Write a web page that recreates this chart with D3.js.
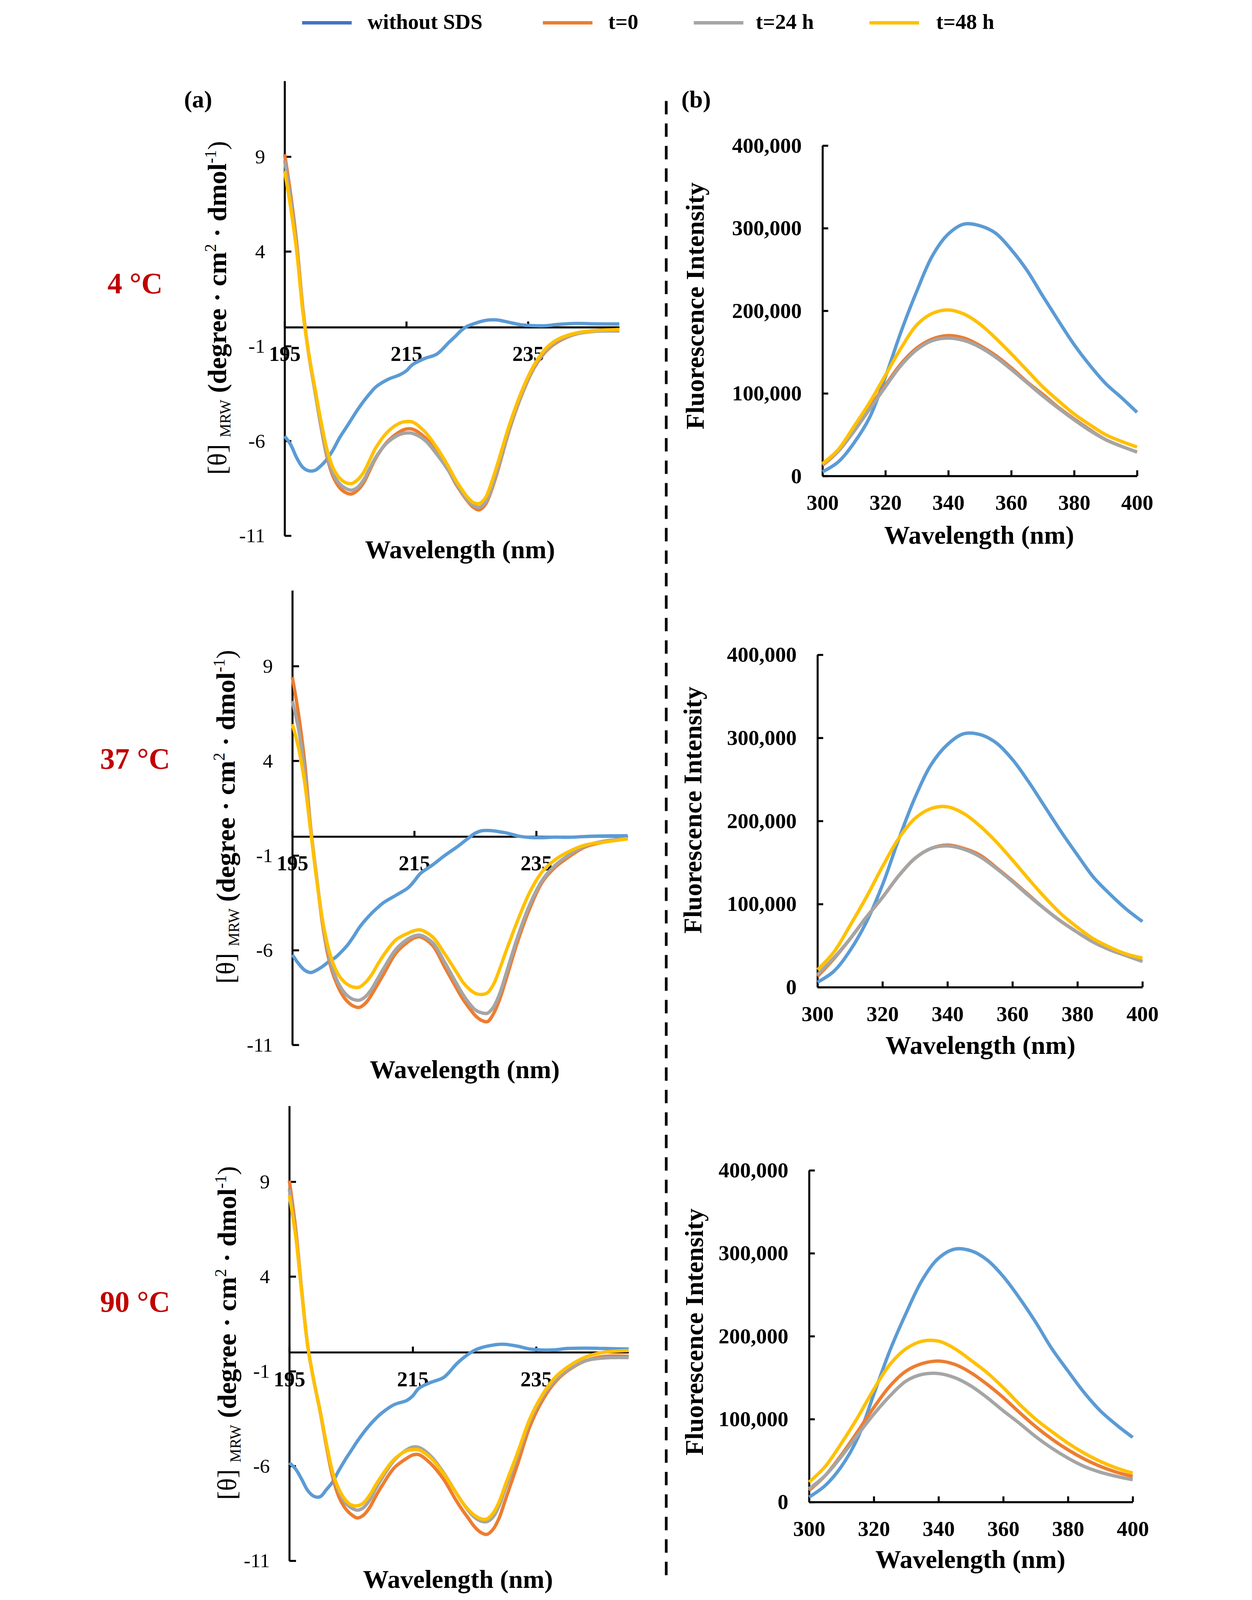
<!DOCTYPE html>
<html>
    <head>
        <meta charset="UTF-8"/>
        <style>
            html, body { margin: 0; padding: 0; background: #fff; overflow: hidden; }
            svg { display: block; width: 100vw; height: 100vh; }
        </style>
    </head>
    <body>
        <script src="https://d3js.org/d3.v7.min.js" type="text/javascript"></script>
        <script>
            // series names and colours (Excel default palette)
            let seriesNames = ["without SDS", "t=0", "t=24 h", "t=48 h"];
            let lineColors = ["#5B9BD5", "#ED7D31", "#A5A5A5", "#FFC000"];
            let legendColors = ["#4472C4", "#ED7D31", "#A5A5A5", "#FFC000"];
            let tempLabels = ["4 °C", "37 °C", "90 °C"];

            // CD spectra, wavelength (nm) / mean residue ellipticity
            let cdWavelengths = [195,196,197,198,199,200,201,202,203,204,205,206,207,208,209,210,212,214,215,216,218,220,222,223,224,225,226,227,228,229,230,232,234,236,238,240,243,246,250];
            let cdYTicks = [9, 4, -1, -6, -11];
            let cdXTicks = [195, 215, 235];

            let cd4_withoutSDS = [-5.75,-6.2,-6.9,-7.4,-7.58,-7.55,-7.3,-6.95,-6.45,-5.85,-5.35,-4.85,-4.35,-3.9,-3.5,-3.15,-2.75,-2.5,-2.3,-1.98,-1.65,-1.42,-0.8,-0.5,-0.18,0.05,0.17,0.28,0.36,0.39,0.38,0.25,0.12,0.08,0.08,0.15,0.2,0.18,0.17];
            let cd4_t0 = [9.13,7.0,4.4,1.0,-1.5,-3.4,-5.3,-6.9,-7.9,-8.45,-8.72,-8.8,-8.6,-8.2,-7.55,-6.9,-6.0,-5.5,-5.37,-5.38,-5.8,-6.6,-7.6,-8.2,-8.7,-9.15,-9.5,-9.64,-9.35,-8.6,-7.6,-5.36,-3.55,-2.15,-1.25,-0.75,-0.35,-0.2,-0.17];
            let cd4_t24 = [8.8,6.7,4.2,0.9,-1.5,-3.4,-5.25,-6.8,-7.75,-8.25,-8.5,-8.6,-8.45,-8.05,-7.45,-6.85,-6.05,-5.65,-5.58,-5.6,-5.95,-6.7,-7.6,-8.15,-8.65,-9.1,-9.4,-9.5,-9.25,-8.5,-7.5,-5.3,-3.5,-2.1,-1.2,-0.7,-0.35,-0.22,-0.2];
            let cd4_t48 = [8.25,6.3,3.95,0.8,-1.45,-3.25,-5.0,-6.5,-7.45,-7.95,-8.2,-8.25,-8.05,-7.65,-7.0,-6.35,-5.5,-5.05,-4.98,-5.0,-5.5,-6.35,-7.4,-8.0,-8.5,-8.95,-9.25,-9.3,-9.0,-8.2,-7.2,-5.1,-3.35,-2.0,-1.1,-0.62,-0.3,-0.18,-0.12];

            let cd37_withoutSDS = [-6.24,-6.7,-7.05,-7.18,-7.05,-6.85,-6.6,-6.4,-6.1,-5.75,-5.3,-4.8,-4.4,-4.05,-3.75,-3.48,-3.1,-2.7,-2.35,-1.95,-1.5,-1.0,-0.55,-0.3,-0.05,0.18,0.3,0.32,0.3,0.25,0.2,0.03,-0.05,-0.06,-0.03,-0.04,0.0,0.03,0.04];
            let cd37_t0 = [8.42,6.5,4.0,0.5,-2.2,-4.74,-6.5,-7.55,-8.25,-8.7,-8.95,-9.02,-8.8,-8.35,-7.8,-7.25,-6.15,-5.55,-5.35,-5.3,-5.75,-6.9,-8.05,-8.6,-9.05,-9.45,-9.7,-9.77,-9.35,-8.6,-7.6,-5.5,-3.75,-2.4,-1.65,-1.15,-0.55,-0.3,-0.09];
            let cd37_t24 = [7.16,5.7,3.5,0.4,-2.2,-4.6,-6.3,-7.35,-8.0,-8.4,-8.6,-8.64,-8.45,-8.05,-7.5,-6.95,-5.95,-5.4,-5.25,-5.21,-5.6,-6.65,-7.8,-8.35,-8.8,-9.15,-9.3,-9.33,-9.0,-8.3,-7.3,-5.25,-3.55,-2.3,-1.55,-1.05,-0.5,-0.25,-0.1];
            let cd37_t48 = [5.94,4.7,2.9,0.3,-2.3,-4.5,-6.0,-6.95,-7.5,-7.8,-7.95,-7.95,-7.7,-7.3,-6.75,-6.25,-5.45,-5.1,-4.97,-4.93,-5.3,-6.2,-7.2,-7.7,-8.05,-8.28,-8.34,-8.25,-7.8,-7.0,-6.1,-4.4,-2.9,-1.85,-1.25,-0.85,-0.45,-0.3,-0.12];

            let cd90_withoutSDS = [-5.83,-6.15,-6.7,-7.3,-7.6,-7.62,-7.25,-6.85,-6.25,-5.7,-5.2,-4.7,-4.25,-3.85,-3.5,-3.2,-2.76,-2.55,-2.3,-1.9,-1.58,-1.33,-0.65,-0.35,-0.1,0.1,0.23,0.32,0.38,0.42,0.42,0.32,0.17,0.12,0.13,0.2,0.22,0.2,0.17];
            let cd90_t0 = [9.06,6.6,3.3,0.3,-1.55,-3.15,-4.95,-6.55,-7.6,-8.2,-8.55,-8.74,-8.6,-8.2,-7.6,-7.05,-6.1,-5.6,-5.42,-5.4,-5.9,-6.7,-7.8,-8.3,-8.75,-9.2,-9.5,-9.61,-9.35,-8.75,-7.8,-5.9,-3.9,-2.55,-1.6,-1.0,-0.45,-0.22,-0.21];
            let cd90_t24 = [8.6,6.3,3.2,0.3,-1.55,-3.1,-4.85,-6.35,-7.3,-7.9,-8.2,-8.33,-8.2,-7.8,-7.2,-6.65,-5.7,-5.15,-5.0,-5.02,-5.5,-6.35,-7.4,-7.9,-8.35,-8.7,-8.9,-8.94,-8.7,-8.1,-7.2,-5.45,-3.6,-2.35,-1.5,-0.95,-0.45,-0.3,-0.28];
            let cd90_t48 = [8.28,6.2,3.2,0.3,-1.55,-3.1,-4.8,-6.3,-7.2,-7.75,-8.05,-8.1,-7.95,-7.55,-7.0,-6.5,-5.65,-5.2,-5.14,-5.15,-5.6,-6.4,-7.4,-7.9,-8.3,-8.6,-8.78,-8.8,-8.5,-7.9,-7.0,-5.3,-3.5,-2.25,-1.35,-0.8,-0.25,0.0,0.09];

            // fluorescence spectra, wavelength (nm) / intensity
            let flWavelengths = [300,305,310,315,320,325,330,335,340,345,350,355,360,365,370,375,380,385,390,395,400];
            let flYTicks = [0, 100000, 200000, 300000, 400000];
            let flXTicks = [300, 320, 340, 360, 380, 400];

            let fl4_withoutSDS = [5000,17000,40000,71000,120000,175000,224000,267000,293000,305000,303000,294000,274000,249000,218000,188000,159000,134000,112000,95000,77000];
            let fl4_t0 = [13000,30000,56000,83000,110000,136000,155000,166000,170000,167000,158000,146000,131000,114000,99000,83000,69000,56000,44000,36000,29000];
            let fl4_t24 = [14000,30000,54000,81000,108000,134000,153000,164000,167000,164000,156000,144000,129000,113000,97000,82000,68000,55000,44000,36000,29000];
            let fl4_t48 = [15000,32000,60000,89000,122000,155000,183000,197000,201000,196000,184000,167000,148000,128000,108000,91000,75000,62000,50000,42000,35000];

            let fl37_withoutSDS = [6000,19000,44000,78000,123000,178000,228000,268000,292000,305000,304000,294000,274000,247000,217000,187000,159000,132000,112000,94000,79000];
            let fl37_t0 = [13000,34000,58000,84000,108000,134000,155000,167000,171000,167000,159000,144000,128000,111000,94000,79000,66000,54000,45000,38000,31000];
            let fl37_t24 = [15000,35000,58000,84000,108000,134000,155000,167000,170000,166000,157000,143000,127000,110000,94000,79000,66000,54000,45000,38000,31000];
            let fl37_t48 = [21000,42000,74000,108000,145000,179000,203000,215000,217000,209000,194000,175000,153000,130000,108000,88000,72000,58000,48000,40000,35000];

            let fl90_withoutSDS = [6000,20000,43000,77000,130000,183000,228000,268000,294000,305000,303000,292000,272000,246000,217000,185000,158000,132000,110000,93000,78000];
            let fl90_t0 = [14000,32000,57000,85000,114000,140000,158000,167000,170000,166000,156000,142000,126000,108000,91000,76000,63000,52000,43000,36000,31000];
            let fl90_t24 = [16000,32000,55000,81000,106000,128000,146000,154000,155000,150000,140000,126000,110000,95000,79000,65000,53000,43000,36000,31000,27000];
            let fl90_t48 = [24000,43000,71000,102000,136000,166000,185000,194000,194000,185000,171000,156000,138000,118000,100000,85000,71000,59000,49000,41000,35000];

            const FONT = '"Times New Roman", "Liberation Serif", serif';
            // the drawing is laid out on a 3206 x 4770 canvas and scaled to the window
            let svg = d3.select("body").append("svg")
                .attr("viewBox", "0 0 3206 4770")
                .attr("preserveAspectRatio", "xMidYMin meet")
                .style("background", "#fff")
                .attr("font-family", FONT);

            // legend
            let legendPos = [[637, 832], [1355, 1550], [1805, 1990], [2329, 2528]];
            let lg = svg.append("g");
            seriesNames.forEach(function(name, i) {
                lg.append("line")
                    .attr("x1", legendPos[i][0]).attr("x2", legendPos[i][0] + 148)
                    .attr("y1", 68).attr("y2", 68)
                    .attr("stroke", legendColors[i]).attr("stroke-width", 10);
                lg.append("text")
                    .attr("x", legendPos[i][1]).attr("y", 86)
                    .attr("font-size", 64).attr("font-weight", "bold")
                    .text(name);
            });

            // panel labels and divider
            svg.append("text").attr("x", 285).attr("y", 320).attr("font-size", 72).attr("font-weight", "bold").text("(a)");
            svg.append("text").attr("x", 1768).attr("y", 320).attr("font-size", 72).attr("font-weight", "bold").text("(b)");
            svg.append("line")
                .attr("x1", 1723).attr("x2", 1723).attr("y1", 301).attr("y2", 4702)
                .attr("stroke", "#000").attr("stroke-width", 8)
                .attr("stroke-dasharray", "40,27");

            let cdPanels = [
                {temp: tempLabels[0], series: [cd4_withoutSDS, cd4_t0, cd4_t24, cd4_t48],
                 left: 585, right: 1583, top: 241, bottom: 1597, titleX: 1108, titleY: 1664, yTitleX: 410, yTitleY: 918, tempY: 875},
                {temp: tempLabels[1], series: [cd37_withoutSDS, cd37_t0, cd37_t24, cd37_t48],
                 left: 608, right: 1608, top: 1760, bottom: 3115, titleX: 1122, titleY: 3214, yTitleX: 436, yTitleY: 2435, tempY: 2292},
                {temp: tempLabels[2], series: [cd90_withoutSDS, cd90_t0, cd90_t24, cd90_t48],
                 left: 599, right: 1611, top: 3297, bottom: 4653, titleX: 1102, titleY: 4734, yTitleX: 440, yTitleY: 3974, tempY: 3911}
            ];

            let flPanels = [
                {series: [fl4_withoutSDS, fl4_t0, fl4_t24, fl4_t48],
                 left: 2189, right: 3127, top: 434, bottom: 1419, titleX: 2656, titleY: 1621, yTitleX: 1835, yTitleY: 912},
                {series: [fl37_withoutSDS, fl37_t0, fl37_t24, fl37_t48],
                 left: 2174, right: 3143, top: 1952, bottom: 2943, titleX: 2660, titleY: 3142, yTitleX: 1828, yTitleY: 2415},
                {series: [fl90_withoutSDS, fl90_t0, fl90_t24, fl90_t48],
                 left: 2149, right: 3114, top: 3489, bottom: 4478, titleX: 2630, titleY: 4675, yTitleX: 1832, yTitleY: 3971}
            ];

            function styleAxis(g) {
                g.attr("font-family", FONT);
                g.selectAll("path, line").attr("stroke", "#000").attr("stroke-width", 6);
                g.selectAll("text").attr("fill", "#000");
            }

            function drawLines(g, xs, series, x, y) {
                let line = d3.line()
                    .x(function(d) { return x(d[0]); })
                    .y(function(d) { return y(d[1]); })
                    .curve(d3.curveCatmullRom.alpha(0.5));
                series.forEach(function(vals, i) {
                    g.append("path")
                        .datum(xs.map(function(w, j) { return [w, vals[j]]; }))
                        .attr("d", line)
                        .attr("fill", "none")
                        .attr("stroke", lineColors[i])
                        .attr("stroke-width", 10)
                        .attr("stroke-linejoin", "round");
                });
            }

            // CD panels (a)
            cdPanels.forEach(function(p) {
                let g = svg.append("g");
                let x = d3.scaleLinear().domain([195, 250]).range([p.left, p.right]);
                let y = d3.scaleLinear().domain([-11, 13]).range([p.bottom, p.top]);

                let ya = g.append("g")
                    .attr("transform", "translate(" + p.left + ",0)")
                    .call(d3.axisLeft(y).tickValues(cdYTicks).tickSize(-20).tickSizeOuter(0)
                        .tickPadding(58).tickFormat(function(d) { return String(d); }));
                styleAxis(ya);
                ya.attr("font-size", 60);

                let xa = g.append("g")
                    .attr("transform", "translate(0," + y(0) + ")")
                    .call(d3.axisBottom(x).tickValues(cdXTicks).tickSize(-17).tickSizeOuter(0)
                        .tickFormat(function(d) { return String(d); }));
                styleAxis(xa);
                xa.attr("font-size", 63).attr("font-weight", "bold");
                xa.selectAll("text").attr("dy", null).attr("y", 101);

                drawLines(g, cdWavelengths, p.series, x, y);

                g.append("text")
                    .attr("x", p.titleX).attr("y", p.titleY)
                    .attr("text-anchor", "middle")
                    .attr("font-size", 77).attr("font-weight", "bold")
                    .text("Wavelength (nm)");

                let yt = g.append("text")
                    .attr("transform", "translate(" + p.yTitleX + "," + p.yTitleY + ") rotate(-90)")
                    .attr("text-anchor", "middle")
                    .attr("font-size", 80);
                yt.append("tspan").text("[θ] ");
                yt.append("tspan").attr("font-size", 46).attr("dy", 13).text("MRW");
                yt.append("tspan").attr("dy", -13).attr("font-weight", "bold").text(" (degree · cm");
                yt.append("tspan").attr("font-size", 48).attr("dy", -30).text("2");
                yt.append("tspan").attr("dy", 30).attr("font-weight", "bold").text(" · dmol");
                yt.append("tspan").attr("font-size", 48).attr("dy", -30).text("-1");
                yt.append("tspan").attr("dy", 30).text(")");

                g.append("text")
                    .attr("x", 139).attr("y", p.tempY)
                    .attr("text-anchor", "middle")
                    .attr("font-size", 88).attr("font-weight", "bold")
                    .attr("fill", "#C00000")
                    .text(p.temp);
            });

            // fluorescence panels (b)
            flPanels.forEach(function(p) {
                let g = svg.append("g");
                let x = d3.scaleLinear().domain([300, 400]).range([p.left, p.right]);
                let y = d3.scaleLinear().domain([0, 400000]).range([p.bottom, p.top]);

                let ya = g.append("g")
                    .attr("transform", "translate(" + p.left + ",0)")
                    .call(d3.axisLeft(y).tickValues(flYTicks).tickSize(-17).tickSizeOuter(0)
                        .tickPadding(62).tickFormat(d3.format(",")));
                styleAxis(ya);
                ya.attr("font-size", 64).attr("font-weight", "bold");

                let xa = g.append("g")
                    .attr("transform", "translate(0," + p.bottom + ")")
                    .call(d3.axisBottom(x).tickValues(flXTicks).tickSize(-17).tickSizeOuter(0));
                styleAxis(xa);
                xa.attr("font-size", 64).attr("font-weight", "bold");
                xa.selectAll("text").attr("dy", null).attr("y", 101);

                drawLines(g, flWavelengths, p.series, x, y);

                g.append("text")
                    .attr("x", p.titleX).attr("y", p.titleY)
                    .attr("text-anchor", "middle")
                    .attr("font-size", 77).attr("font-weight", "bold")
                    .text("Wavelength (nm)");

                g.append("text")
                    .attr("transform", "translate(" + p.yTitleX + "," + p.yTitleY + ") rotate(-90)")
                    .attr("text-anchor", "middle")
                    .attr("font-size", 77).attr("font-weight", "bold")
                    .text("Fluorescence Intensity");
            });
        </script>
    </body>
</html>
